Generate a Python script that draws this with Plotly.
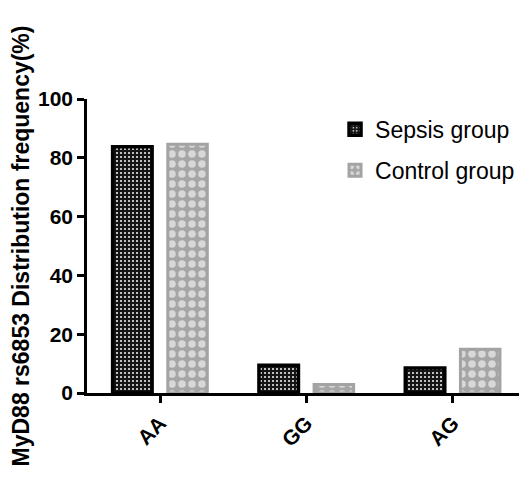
import plotly.graph_objects as go

categories = ["AA", "GG", "AG"]
sepsis = [83.8, 9.4, 8.5]
control = [84.6, 2.9, 14.9]
y_ticks = [0, 20, 40, 60, 80, 100]

FONT = "Arial, Liberation Sans, sans-serif"

fig = go.Figure()
fig.add_trace(go.Bar(
    x=categories, y=sepsis, name="Sepsis group",
    width=0.27, offset=-0.325, legendgroup="s",
    marker=dict(color="#111111",
                line=dict(color="#000000", width=3.5),
                pattern=dict(shape=".", fgcolor="#e8e8e8", bgcolor="#151515",
                             size=4, solidity=0.22, fillmode="replace")),
))
fig.add_trace(go.Bar(
    x=categories, y=control, name="Control group",
    width=0.27, offset=0.052, legendgroup="c",
    marker=dict(color="#a0a0a0",
                line=dict(color="#a3a3a3", width=3),
                pattern=dict(shape=".", fgcolor="#d8d8d8", bgcolor="#a6a6a6",
                             size=10, solidity=0.45, fillmode="replace")),
))

fig.update_layout(
    width=519, height=469,
    margin=dict(l=79, r=1, t=91, b=84),
    plot_bgcolor="white", paper_bgcolor="white",
    font=dict(family=FONT, color="black", size=20),
    showlegend=True,
    legend=dict(x=0.565, y=0.97, xanchor="left", yanchor="top",
                font=dict(family=FONT, size=23, color="black"),
                tracegroupgap=8, bgcolor="rgba(0,0,0,0)"),
    xaxis=dict(
        range=[-0.5, 2.5], showline=True, linecolor="black", linewidth=2.5,
        ticks="outside", ticklen=7, tickwidth=2.5, tickcolor="black",
        tickangle=-45, tickfont=dict(family=FONT, size=21, weight="bold"),
        showgrid=False, zeroline=False,
    ),
    yaxis=dict(
        range=[0, 100], tickvals=y_ticks, showline=True, linecolor="black",
        linewidth=2.5, ticks="outside", ticklen=7, tickwidth=2.5,
        tickcolor="black", tickfont=dict(family=FONT, size=21, weight="bold"),
        showgrid=False, zeroline=False,
        title=dict(text="MyD88 rs6853 Distribution frequency(%)",
                   font=dict(family=FONT, size=23, weight="bold"), standoff=6),
    ),
)

fig.write_html("out.html")
